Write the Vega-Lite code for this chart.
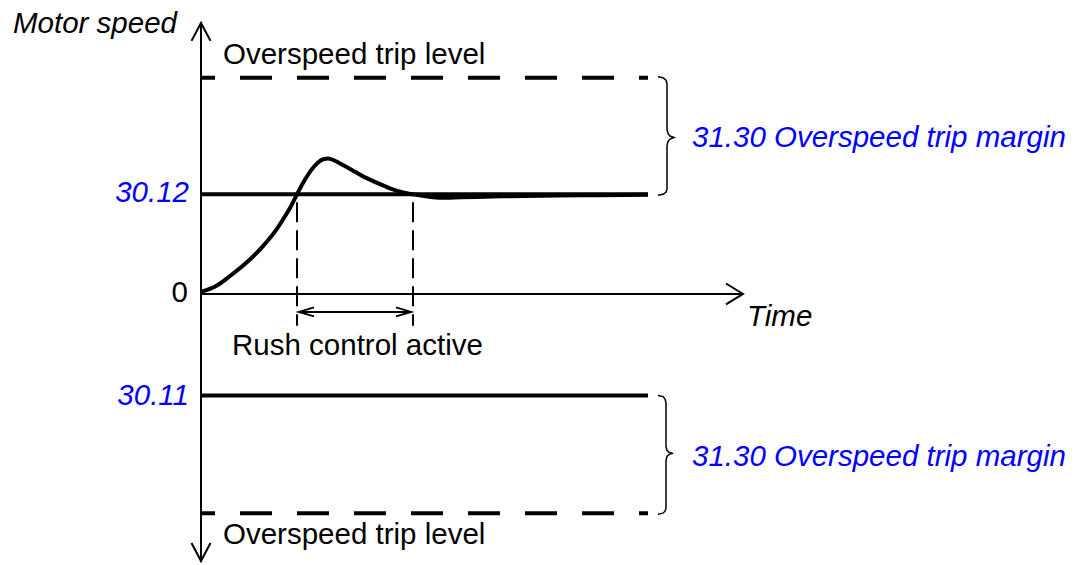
{
  "$schema": "https://vega.github.io/schema/vega-lite/v6.json",
  "width": 1081,
  "height": 565,
  "padding": 0,
  "autosize": {"type": "fit", "contains": "padding"},
  "background": "white",
  "config": {"view": {"stroke": null}},
  "datasets": {
    "axes": [
      {"x": 0, "y": -268, "x2": 0, "y2": 272},
      {"x": 0, "y": 0, "x2": 542, "y2": 0}
    ],
    "arrowheads": [
      {"id": "up", "i": 0, "x": -9.5, "y": 254},
      {"id": "up", "i": 1, "x": 0, "y": 272},
      {"id": "up", "i": 2, "x": 9.5, "y": 254},
      {"id": "down", "i": 0, "x": -9.5, "y": -250},
      {"id": "down", "i": 1, "x": 0, "y": -268},
      {"id": "down", "i": 2, "x": 9.5, "y": -250},
      {"id": "time", "i": 0, "x": 525, "y": 10.5},
      {"id": "time", "i": 1, "x": 542, "y": 0},
      {"id": "time", "i": 2, "x": 525, "y": -10.5},
      {"id": "rushL", "i": 0, "x": 113, "y": -13.5},
      {"id": "rushL", "i": 1, "x": 98, "y": -18},
      {"id": "rushL", "i": 2, "x": 113, "y": -22.5},
      {"id": "rushR", "i": 0, "x": 195, "y": -13.5},
      {"id": "rushR", "i": 1, "x": 210, "y": -18},
      {"id": "rushR", "i": 2, "x": 195, "y": -22.5}
    ],
    "shaft": [
      {"x": 98, "y": -18, "x2": 210, "y2": -18}
    ],
    "braces": [
      {"id": "top", "i": 0, "x": 457, "y": 218},
      {"id": "top", "i": 1, "x": 462, "y": 217},
      {"id": "top", "i": 2, "x": 465, "y": 214.5},
      {"id": "top", "i": 3, "x": 466, "y": 211},
      {"id": "top", "i": 4, "x": 466, "y": 165},
      {"id": "top", "i": 5, "x": 467, "y": 161},
      {"id": "top", "i": 6, "x": 469, "y": 158.5},
      {"id": "top", "i": 7, "x": 473, "y": 157},
      {"id": "top", "i": 8, "x": 469, "y": 155.5},
      {"id": "top", "i": 9, "x": 467, "y": 153},
      {"id": "top", "i": 10, "x": 466, "y": 149},
      {"id": "top", "i": 11, "x": 466, "y": 105},
      {"id": "top", "i": 12, "x": 465, "y": 102},
      {"id": "top", "i": 13, "x": 462, "y": 100},
      {"id": "top", "i": 14, "x": 457, "y": 99},
      {"id": "bottom", "i": 0, "x": 457, "y": -102},
      {"id": "bottom", "i": 1, "x": 462, "y": -103},
      {"id": "bottom", "i": 2, "x": 464, "y": -105.5},
      {"id": "bottom", "i": 3, "x": 465, "y": -109},
      {"id": "bottom", "i": 4, "x": 465, "y": -153},
      {"id": "bottom", "i": 5, "x": 466, "y": -157},
      {"id": "bottom", "i": 6, "x": 468, "y": -159},
      {"id": "bottom", "i": 7, "x": 472, "y": -160},
      {"id": "bottom", "i": 8, "x": 468, "y": -161},
      {"id": "bottom", "i": 9, "x": 466, "y": -163},
      {"id": "bottom", "i": 10, "x": 465, "y": -167},
      {"id": "bottom", "i": 11, "x": 465, "y": -215},
      {"id": "bottom", "i": 12, "x": 464, "y": -218},
      {"id": "bottom", "i": 13, "x": 462, "y": -220},
      {"id": "bottom", "i": 14, "x": 457, "y": -221}
    ],
    "setpoints": [
      {"x": 0, "y": 100, "x2": 447, "y2": 100},
      {"x": 0, "y": -102, "x2": 447, "y2": -102}
    ],
    "triplevels": [
      {"x": 0, "y": 217, "x2": 447, "y2": 217},
      {"x": 0, "y": -220, "x2": 447, "y2": -220}
    ],
    "rushmarks": [
      {"x": 96, "y": 100, "x2": 96, "y2": -32},
      {"x": 212, "y": 100, "x2": 212, "y2": -32}
    ],
    "speed": [
      {"x": 0, "y": 2},
      {"x": 15, "y": 8},
      {"x": 29, "y": 18},
      {"x": 45, "y": 31},
      {"x": 62, "y": 48},
      {"x": 75, "y": 64},
      {"x": 84, "y": 78},
      {"x": 90, "y": 88},
      {"x": 96, "y": 100},
      {"x": 103, "y": 113},
      {"x": 110, "y": 124},
      {"x": 117, "y": 132},
      {"x": 123, "y": 135.5},
      {"x": 127, "y": 136},
      {"x": 132, "y": 134.5},
      {"x": 140, "y": 130.5},
      {"x": 150, "y": 125},
      {"x": 162, "y": 118},
      {"x": 175, "y": 112},
      {"x": 189, "y": 106},
      {"x": 200, "y": 102.5},
      {"x": 212, "y": 100},
      {"x": 225, "y": 98},
      {"x": 240, "y": 96.5},
      {"x": 260, "y": 97},
      {"x": 300, "y": 98},
      {"x": 380, "y": 99},
      {"x": 447, "y": 99.5}
    ],
    "labels": [
      {"role": "axisTitle", "x": -188, "y": 262, "text": "Motor speed"},
      {"role": "axisTitle", "x": 546, "y": -32, "text": "Time"},
      {"role": "note", "x": 22, "y": 231, "text": "Overspeed trip level"},
      {"role": "note", "x": 22, "y": -251, "text": "Overspeed trip level"},
      {"role": "note", "x": 31, "y": -61, "text": "Rush control active"},
      {"role": "zero", "x": -13, "y": -8, "text": "0"},
      {"role": "param", "x": -12, "y": 92, "text": "30.12"},
      {"role": "param", "x": -12, "y": -111, "text": "30.11"},
      {"role": "margin", "x": 491, "y": 147, "text": "31.30 Overspeed trip margin"},
      {"role": "margin", "x": 491, "y": -173, "text": "31.30 Overspeed trip margin"}
    ]
  },
  "encoding": {
    "x": {"field": "x", "type": "quantitative", "scale": {"domain": [-201, 880], "nice": false, "zero": false}, "axis": null},
    "y": {"field": "y", "type": "quantitative", "scale": {"domain": [-270, 295], "nice": false, "zero": false}, "axis": null}
  },
  "layer": [
    {
      "data": {"name": "axes"},
      "mark": {"type": "rule", "color": "black", "strokeWidth": 2},
      "encoding": {"x2": {"field": "x2"}, "y2": {"field": "y2"}}
    },
    {
      "data": {"name": "arrowheads"},
      "mark": {"type": "line", "color": "black", "strokeWidth": 2},
      "encoding": {"detail": {"field": "id"}, "order": {"field": "i", "type": "quantitative"}}
    },
    {
      "data": {"name": "shaft"},
      "mark": {"type": "rule", "color": "black", "strokeWidth": 2},
      "encoding": {"x2": {"field": "x2"}, "y2": {"field": "y2"}}
    },
    {
      "data": {"name": "braces"},
      "mark": {"type": "line", "color": "black", "strokeWidth": 1.5},
      "encoding": {"detail": {"field": "id"}, "order": {"field": "i", "type": "quantitative"}}
    },
    {
      "data": {"name": "rushmarks"},
      "mark": {"type": "rule", "color": "black", "strokeWidth": 2, "strokeDash": [20, 8], "strokeDashOffset": 20},
      "encoding": {"x2": {"field": "x2"}, "y2": {"field": "y2"}}
    },
    {
      "data": {"name": "triplevels"},
      "mark": {"type": "rule", "color": "black", "strokeWidth": 4, "strokeDash": [32, 25], "strokeDashOffset": 18},
      "encoding": {"x2": {"field": "x2"}, "y2": {"field": "y2"}}
    },
    {
      "data": {"name": "setpoints"},
      "mark": {"type": "rule", "color": "black", "strokeWidth": 4},
      "encoding": {"x2": {"field": "x2"}, "y2": {"field": "y2"}}
    },
    {
      "data": {"name": "speed"},
      "mark": {"type": "line", "color": "black", "strokeWidth": 4, "interpolate": "monotone"},
      "encoding": {}
    },
    {
      "data": {"name": "labels"},
      "transform": [{"filter": "datum.role === 'axisTitle'"}],
      "mark": {"type": "text", "align": "left", "baseline": "alphabetic", "font": "Liberation Sans", "fontSize": 29.5, "fontStyle": "italic", "color": "black"},
      "encoding": {"text": {"field": "text"}}
    },
    {
      "data": {"name": "labels"},
      "transform": [{"filter": "datum.role === 'note'"}],
      "mark": {"type": "text", "align": "left", "baseline": "alphabetic", "font": "Liberation Sans", "fontSize": 29.5, "color": "black"},
      "encoding": {"text": {"field": "text"}}
    },
    {
      "data": {"name": "labels"},
      "transform": [{"filter": "datum.role === 'zero'"}],
      "mark": {"type": "text", "align": "right", "baseline": "alphabetic", "font": "Liberation Sans", "fontSize": 29.5, "color": "black"},
      "encoding": {"text": {"field": "text"}}
    },
    {
      "data": {"name": "labels"},
      "transform": [{"filter": "datum.role === 'param'"}],
      "mark": {"type": "text", "align": "right", "baseline": "alphabetic", "font": "Liberation Sans", "fontSize": 29.5, "fontStyle": "italic", "color": "#0000ff"},
      "encoding": {"text": {"field": "text"}}
    },
    {
      "data": {"name": "labels"},
      "transform": [{"filter": "datum.role === 'margin'"}],
      "mark": {"type": "text", "align": "left", "baseline": "alphabetic", "font": "Liberation Sans", "fontSize": 29.5, "fontStyle": "italic", "color": "#0000ff"},
      "encoding": {"text": {"field": "text"}}
    }
  ]
}
